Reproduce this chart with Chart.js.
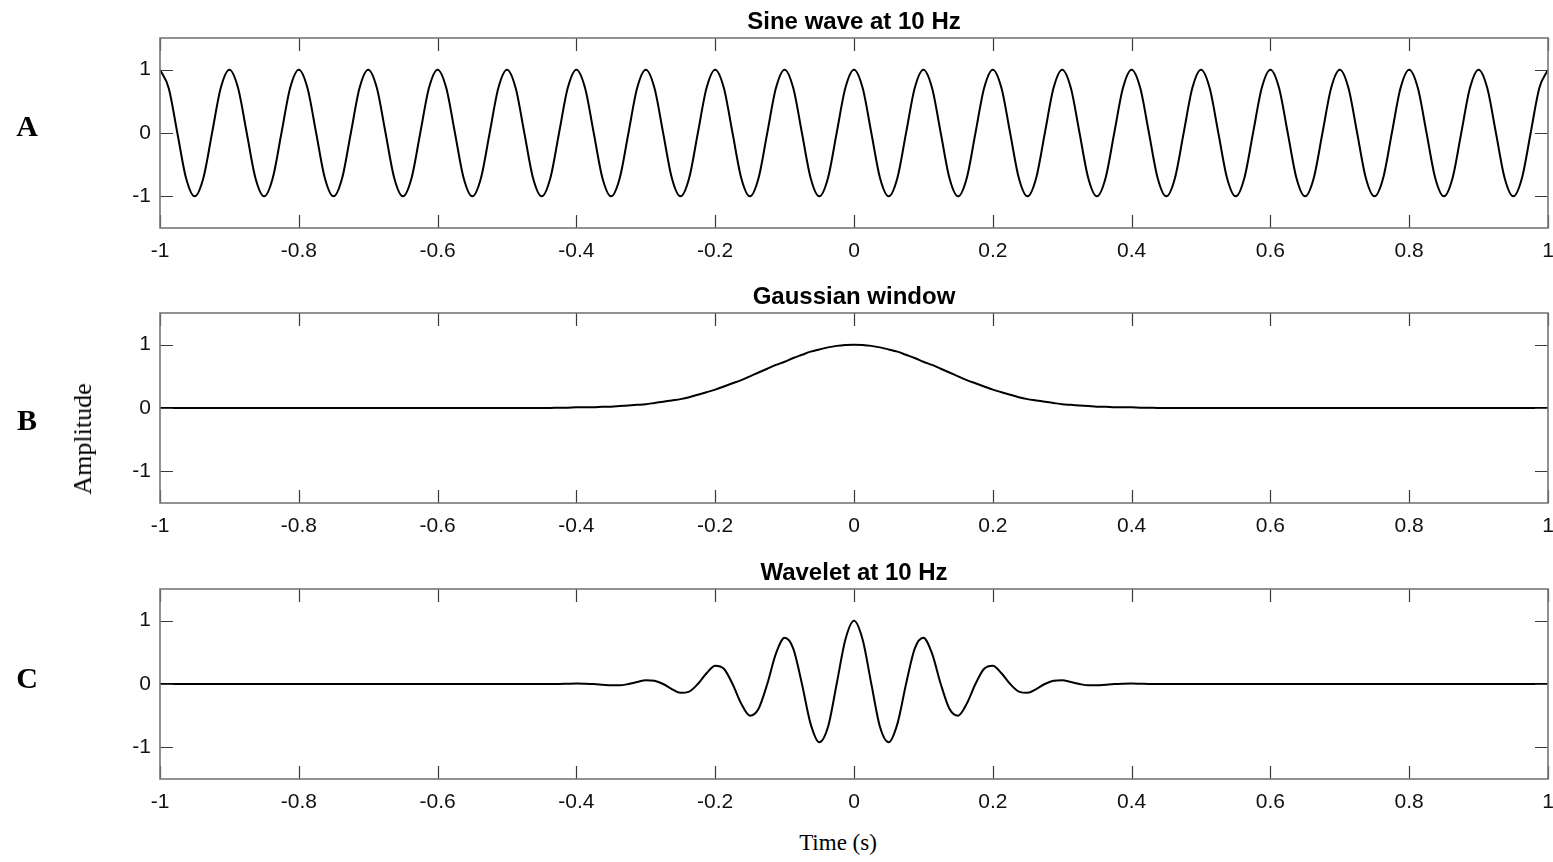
<!DOCTYPE html>
<html>
<head>
<meta charset="utf-8">
<script src="https://cdn.jsdelivr.net/npm/chart.js@4.4.1/dist/chart.umd.min.js"></script>
<style>
  body{ margin:0; background:#fff; width:1553px; height:862px; overflow:hidden; position:relative }
  .panel{ position:absolute; left:0; width:1553px; height:275px }
  .tag{ position:absolute; font-family:"Liberation Serif","Times New Roman",serif; color:#000; transform:translate(-50%,-50%); white-space:nowrap }
  .letter{ font-weight:bold; font-size:30px }
</style>
</head>
<body>

<div class="panel" style="top:0px"><canvas id="chartA" width="1553" height="275"></canvas></div>
<div class="panel" style="top:275px"><canvas id="chartB" width="1553" height="275"></canvas></div>
<div class="panel" style="top:551px"><canvas id="chartC" width="1553" height="275"></canvas></div>

<div class="tag letter" style="left:27px;top:126px">A</div>
<div class="tag letter" style="left:27px;top:420px">B</div>
<div class="tag letter" style="left:27px;top:678px">C</div>
<div class="tag" style="left:83px;top:439px;font-size:26px;transform:translate(-50%,-50%) rotate(-90deg)">Amplitude</div>
<div class="tag" style="left:838px;top:843px;font-size:23px">Time (s)</div>

<script>
/* =========================
   DATA (t = -1 .. 1, step 0.0125 s)
========================= */
const timeStart = -1
const timeStep = 0.0125

const xTicks = [-1, -0.8, -0.6, -0.4, -0.2, 0, 0.2, 0.4, 0.6, 0.8, 1]
const yTicks = [-1, 0, 1]

const titles = ["Sine wave at 10 Hz", "Gaussian window", "Wavelet at 10 Hz"]

const sineValues = [
  1,.71,0,-.71,-1,-.71,0,.71,  1,.71,0,-.71,-1,-.71,0,.71,
  1,.71,0,-.71,-1,-.71,0,.71,  1,.71,0,-.71,-1,-.71,0,.71,
  1,.71,0,-.71,-1,-.71,0,.71,  1,.71,0,-.71,-1,-.71,0,.71,
  1,.71,0,-.71,-1,-.71,0,.71,  1,.71,0,-.71,-1,-.71,0,.71,
  1,.71,0,-.71,-1,-.71,0,.71,  1,.71,0,-.71,-1,-.71,0,.71,
  1,.71,0,-.71,-1,-.71,0,.71,  1,.71,0,-.71,-1,-.71,0,.71,
  1,.71,0,-.71,-1,-.71,0,.71,  1,.71,0,-.71,-1,-.71,0,.71,
  1,.71,0,-.71,-1,-.71,0,.71,  1,.71,0,-.71,-1,-.71,0,.71,
  1,.71,0,-.71,-1,-.71,0,.71,  1,.71,0,-.71,-1,-.71,0,.71,
  1,.71,0,-.71,-1,-.71,0,.71,  1,.71,0,-.71,-1,-.71,0,.71,
  1
]

const gaussValues = [
  0,0,0,0,0,0,0,0,0,0,0,0,0,0,0,0,0,0,0,0,0,0,0,
  0,0,0,0,0,0,0,0,0,0,0,0,0,0,0,0,0,0,0,0,0,0,0,
  .004,.005,.01,.01,.01,.02,.02,.03,.04,.05,.06,.08,.10,.12,.14,.17,.21,
  .25,.29,.34,.39,.44,.50,.56,.62,.68,.73,.79,.84,.89,.925,.957,.981,.995,
  1,
  .995,.981,.957,.925,.89,.84,.79,.73,.68,.62,.56,.50,.44,.39,.34,.29,.25,
  .21,.17,.14,.12,.10,.08,.06,.05,.04,.03,.02,.02,.01,.01,.01,.005,.004,
  0,0,0,0,0,0,0,0,0,0,0,0,0,0,0,0,0,0,0,0,0,0,0,
  0,0,0,0,0,0,0,0,0,0,0,0,0,0,0,0,0,0,0,0,0,0,0
]

const waveValues = [
  0,0,0,0,0,0,0,0,0,0,0,0,0,0,0,0,0,0,0,0,0,0,0,
  0,0,0,0,0,0,0,0,0,0,0,0,0,0,0,0,0,0,0,0,0,0,0,
  0,.004,.007,.005,0,-.01,-.02,-.02,0,.03,.06,.05,0,-.08,-.14,-.12,0,
  .17,.29,.24,0,-.31,-.50,-.39,0,.48,.73,.56,0,-.63,-.92,-.68,0,.70,
  1,
  .70,0,-.68,-.92,-.63,0,.56,.73,.48,0,-.39,-.50,-.31,0,.24,.29,.17,
  0,-.12,-.14,-.08,0,.05,.06,.03,0,-.02,-.02,-.01,0,.005,.007,.004,0,
  0,0,0,0,0,0,0,0,0,0,0,0,0,0,0,0,0,0,0,0,0,0,0,
  0,0,0,0,0,0,0,0,0,0,0,0,0,0,0,0,0,0,0,0,0,0,0
]

/* =========================
   FRAME + INWARD TICKS
========================= */
const boxTicks = {
  id: "boxTicks",
  afterDatasetsDraw(chart){
    const { ctx, chartArea, scales } = chart
    const { left, right, top, bottom } = chartArea
    const len = 13

    ctx.save()
    ctx.strokeStyle = "#3a3a3a"
    ctx.lineWidth = 1.2
    ctx.beginPath()
    xTicks.forEach(v => {
      const px = Math.round(scales.x.getPixelForValue(v)) + 0.5
      ctx.moveTo(px, bottom); ctx.lineTo(px, bottom - len)
      ctx.moveTo(px, top); ctx.lineTo(px, top + len)
    })
    yTicks.forEach(v => {
      const py = Math.round(scales.y.getPixelForValue(v)) + 0.5
      ctx.moveTo(left, py); ctx.lineTo(left + len, py)
      ctx.moveTo(right, py); ctx.lineTo(right - len, py)
    })
    ctx.stroke()

    ctx.strokeStyle = "#777"
    ctx.lineWidth = 1.6
    ctx.strokeRect(left, top, right - left, bottom - top)
    ctx.restore()
  }
}

/* =========================
   PANEL
========================= */
function makePanel(id, title, values){

  const points = values.map((v, i) => ({ x: timeStart + i * timeStep, y: v }))
  const tickFont = { family: "'Liberation Sans', Arial, Helvetica, sans-serif", size: 21 }

  return new Chart(document.getElementById(id), {
    type: "line",
    data: {
      datasets: [{
        data: points,
        borderColor: "#000",
        borderWidth: 2,
        pointRadius: 0,
        fill: false,
        cubicInterpolationMode: "monotone"
      }]
    },
    options: {
      responsive: false,
      animation: false,
      devicePixelRatio: 1,
      layout: { padding: { left: 0, right: 5, top: 0, bottom: 0 } },
      plugins: {
        legend: { display: false },
        tooltip: { enabled: false },
        title: {
          display: true,
          fullSize: false,   // centre over the plot, not the canvas
          text: title,
          color: "#000",
          font: { family: "'Liberation Sans', Arial, Helvetica, sans-serif", size: 24, weight: "bold", lineHeight: 1 },
          padding: { top: 10, bottom: 4 }
        }
      },
      scales: {
        x: {
          type: "linear",
          min: -1,
          max: 1,
          grid: { display: false, drawTicks: false },
          border: { display: false },
          ticks: { font: tickFont, color: "#111", padding: 11, maxRotation: 0, callback: v => String(v) },
          afterBuildTicks: s => { s.ticks = xTicks.map(v => ({ value: v })) },
          afterFit: s => { s.height = 47; s.paddingLeft = 0; s.paddingRight = 0 }
        },
        y: {
          min: -1.5,
          max: 1.5,
          grid: { display: false, drawTicks: false },
          border: { display: false },
          ticks: { font: tickFont, color: "#111", padding: 9, callback: v => String(v) },
          afterBuildTicks: s => { s.ticks = yTicks.map(v => ({ value: v })) },
          afterFit: s => { s.width = 160; s.paddingTop = 0; s.paddingBottom = 0 }
        }
      }
    },
    plugins: [boxTicks]
  })
}

/* RUN */
makePanel("chartA", titles[0], sineValues)
makePanel("chartB", titles[1], gaussValues)
makePanel("chartC", titles[2], waveValues)
</script>
</body>
</html>
